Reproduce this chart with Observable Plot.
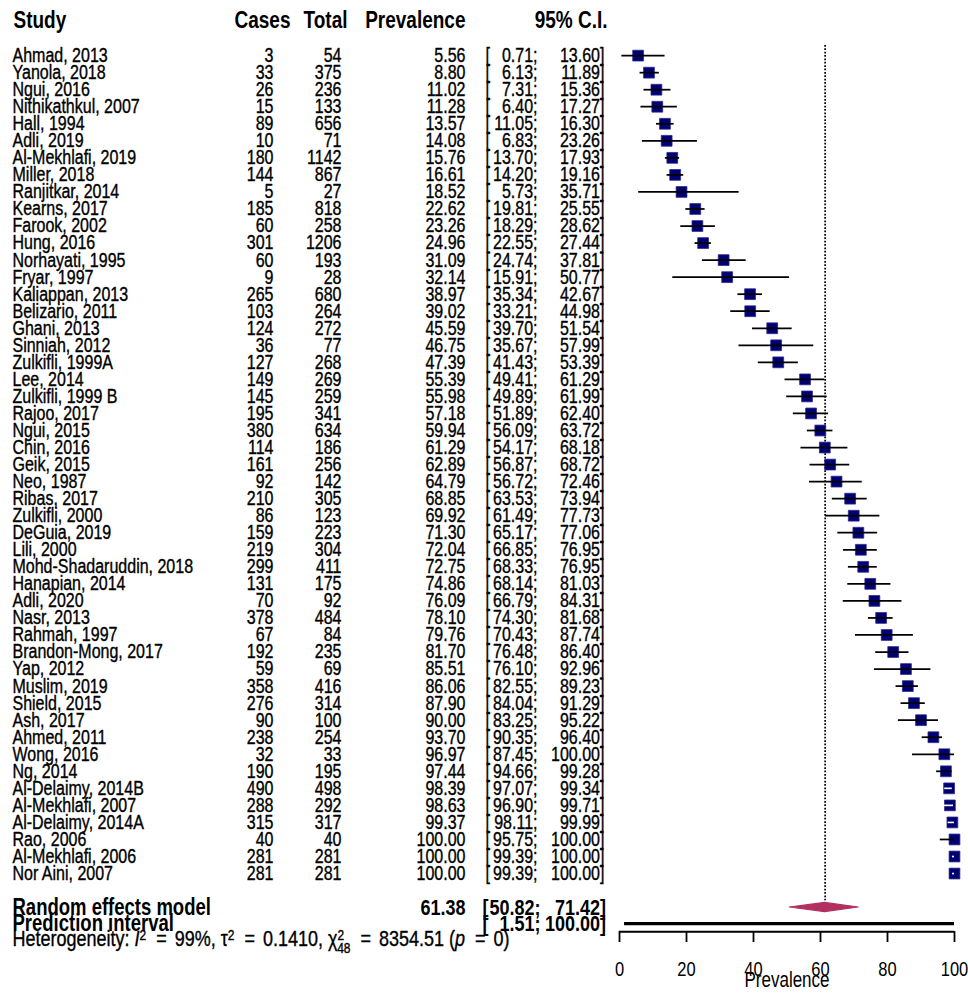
<!DOCTYPE html>
<html>
<head>
<meta charset="utf-8">
<script src="https://cdn.jsdelivr.net/npm/d3@7"></script>
<script src="https://cdn.jsdelivr.net/npm/@observablehq/plot@0.6"></script>
<style>
  html, body { margin: 0; padding: 0; background: #fff; }
  #chart svg { display: block; }
</style>
</head>
<body>
<div id="chart"></div>
<script>
// ---------- data ----------
const studies = ["Ahmad, 2013","Yanola, 2018","Ngui, 2016","Nithikathkul, 2007","Hall, 1994","Adli, 2019","Al-Mekhlafi, 2019","Miller, 2018","Ranjitkar, 2014","Kearns, 2017","Farook, 2002","Hung, 2016","Norhayati, 1995","Fryar, 1997","Kaliappan, 2013","Belizario, 2011","Ghani, 2013","Sinniah, 2012","Zulkifli, 1999A","Lee, 2014","Zulkifli, 1999 B","Rajoo, 2017","Ngui, 2015","Chin, 2016","Geik, 2015","Neo, 1987","Ribas, 2017","Zulkifli, 2000","DeGuia, 2019","Lili, 2000","Mohd-Shadaruddin, 2018","Hanapian, 2014","Adli, 2020","Nasr, 2013","Rahmah, 1997","Brandon-Mong, 2017","Yap, 2012","Muslim, 2019","Shield, 2015","Ash, 2017","Ahmed, 2011","Wong, 2016","Ng, 2014","Al-Delaimy, 2014B","Al-Mekhlafi, 2007","Al-Delaimy, 2014A","Rao, 2006","Al-Mekhlafi, 2006","Nor Aini, 2007"];
const cases = [3,33,26,15,89,10,180,144,5,185,60,301,60,9,265,103,124,36,127,149,145,195,380,114,161,92,210,86,159,219,299,131,70,378,67,192,59,358,276,90,238,32,190,490,288,315,40,281,281];
const totals = [54,375,236,133,656,71,1142,867,27,818,258,1206,193,28,680,264,272,77,268,269,259,341,634,186,256,142,305,123,223,304,411,175,92,484,84,235,69,416,314,100,254,33,195,498,292,317,40,281,281];
const prevalence = [5.56,8.80,11.02,11.28,13.57,14.08,15.76,16.61,18.52,22.62,23.26,24.96,31.09,32.14,38.97,39.02,45.59,46.75,47.39,55.39,55.98,57.18,59.94,61.29,62.89,64.79,68.85,69.92,71.30,72.04,72.75,74.86,76.09,78.10,79.76,81.70,85.51,86.06,87.90,90.00,93.70,96.97,97.44,98.39,98.63,99.37,100.00,100.00,100.00];
const lower = [0.71,6.13,7.31,6.40,11.05,6.83,13.70,14.20,5.73,19.81,18.29,22.55,24.74,15.91,35.34,33.21,39.70,35.67,41.43,49.41,49.89,51.89,56.09,54.17,56.87,56.72,63.53,61.49,65.17,66.85,68.33,68.14,66.79,74.30,70.43,76.48,76.10,82.55,84.04,83.25,90.35,87.45,94.66,97.07,96.90,98.11,95.75,99.39,99.39];
const upper = [13.60,11.89,15.36,17.27,16.30,23.26,17.93,19.16,35.71,25.55,28.62,27.44,37.81,50.77,42.67,44.98,51.54,57.99,53.39,61.29,61.99,62.40,63.72,68.18,68.72,72.46,73.94,77.73,77.06,76.95,76.95,81.03,84.31,81.68,87.74,86.40,92.96,89.23,91.29,95.22,96.40,100.00,99.28,99.34,99.71,99.99,100.00,100.00,100.00];
const headers = ["Study","Cases","Total","Prevalence","95% C.I."];
const pooled = {label: "Random effects model", est: 61.38, lo: 50.82, hi: 71.42};
const predInt = {label: "Prediction interval", lo: 1.51, hi: 100.00};
const heterogeneity = {I2: "99%", tau2: "0.1410", df: 48, Q: "8354.51", p: "0"};
const xTicks = [0,20,40,60,80,100];
const xLabel = "Prevalence";

// ---------- layout ----------
const W = 968, HF = 993, S = 0.8, H = HF * S;   // drawn compressed, then stretched vertically
const ML = 619, MR = 14;
const ROW0 = 55, STEP = 17.04;
const px = r => (ROW0 + (r - 1) * STEP) * S;
const HEAD_ROW = -1.05, RE_ROW = 51, PI_ROW = 51.94, HET_ROW = 52.85, AXIS_ROW = 52.41, LAB_ROW = 55.25;
const col = {study: 12, cases: 273, total: 341, prev: 465, lb: 485, lo: 537, hi: 599.5};
const hdrX = [13, 290, 347, 465, 607];
const fmt = v => v.toFixed(2);
const navy = "#000070", maroon = "#B03060";
const ink = {fill: "black", stroke: "black", strokeWidth: 0.3};

const rows = studies.map((s, i) => ({study: s, cases: cases[i], total: totals[i], prev: prevalence[i], lo: lower[i], hi: upper[i], row: i + 1}));
const inside = d => (d.hi - d.lo) <= 3.1;

const rectSym = {draw(ctx, size) {
  const w = Math.sqrt(size), h = w * S;
  ctx.moveTo(-w/2, -h/2); ctx.lineTo(w/2, -h/2); ctx.lineTo(w/2, h/2); ctx.lineTo(-w/2, h/2); ctx.closePath();
}};

const colText = (data, key, x, anchor, extra = {}) =>
  Plot.text(data, {y: "row", text: key, frameAnchor: "left", dx: x - ML, textAnchor: anchor, ...ink, ...extra});

const headerMarks = headers.map((h, i) =>
  colText([{h, row: HEAD_ROW}], "h", hdrX[i], i === 0 ? "start" : "end", {fontWeight: "bold", fontSize: 19, strokeWidth: 0}));

const summaryRows = [
  {label: pooled.label, prev: fmt(pooled.est), lo: fmt(pooled.lo) + ";", hi: fmt(pooled.hi), row: RE_ROW},
  {label: predInt.label, prev: "", lo: fmt(predInt.lo) + ";", hi: fmt(predInt.hi), row: PI_ROW}
];
const hetText = `Heterogeneity: I2 = ${heterogeneity.I2}, t2 = ${heterogeneity.tau2}, X248 = ${heterogeneity.Q} (p = ${heterogeneity.p})`;

const dh = 4.6 / STEP;
const diamond = [
  {x: pooled.lo, y1: RE_ROW, y2: RE_ROW},
  {x: pooled.est, y1: RE_ROW - dh, y2: RE_ROW + dh},
  {x: pooled.hi, y1: RE_ROW, y2: RE_ROW}
];

const boldSum = {fontWeight: "bold", fontSize: 18, strokeWidth: 0};

const chart = Plot.plot({
  width: W, height: H,
  marginLeft: ML, marginRight: MR, marginTop: 0, marginBottom: H - px(AXIS_ROW),
  style: {fontFamily: "'Liberation Sans', Arial, Helvetica, sans-serif", fontSize: "16px", background: "white", color: "black"},
  x: {domain: [0, 100], axis: null},
  y: {domain: [1, 49], range: [px(1), px(49)], axis: null},
  marks: [
    ...headerMarks,
    // study table
    colText(rows, "study", col.study, "start"),
    colText(rows, d => String(d.cases), col.cases, "end"),
    colText(rows, d => String(d.total), col.total, "end"),
    colText(rows, d => fmt(d.prev), col.prev, "end"),
    colText(rows, d => "[", col.lb, "start"),
    colText(rows, d => fmt(d.lo) + ";", col.lo, "end"),
    colText(rows, d => fmt(d.hi), col.hi, "end"),
    colText(rows, d => "]", col.hi, "start"),
    // summary table
    colText(summaryRows, "label", col.study, "start", {...boldSum, fontSize: 18.5}),
    colText(summaryRows, "prev", col.prev, "end", boldSum),
    colText(summaryRows, d => "[", col.lb - 3, "start", boldSum),
    colText(summaryRows, "lo", col.lo + 3, "end", boldSum),
    colText(summaryRows, "hi", col.hi, "end", boldSum),
    colText(summaryRows, d => "]", col.hi, "start", boldSum),
    colText([{t: hetText, row: HET_ROW}], "t", col.study, "start", {fontSize: 18}),
    // pooled reference line
    Plot.ruleX([pooled], {x: "est", y1: 0.41, y2: 50.6, stroke: "black", strokeWidth: 1.7, strokeDasharray: "1.4,1.3"}),
    // study squares and CIs
    Plot.dot(rows, {x: "prev", y: "row", symbol: rectSym, r: 6.1, fill: navy, stroke: "#2a2a95", strokeWidth: 0.7}),
    Plot.ruleY(rows.filter(d => !inside(d)), {y: "row", x1: "lo", x2: "hi", stroke: "black", strokeWidth: 1.4}),
    Plot.ruleY(rows.filter(inside), {y: "row", x1: "lo", x2: "hi", stroke: "white", strokeWidth: 1.3}),
    // diamond
    Plot.areaY(diamond, {x: "x", y1: "y1", y2: "y2", fill: maroon, stroke: maroon, strokeWidth: 1, curve: "linear"}),
    // prediction interval
    Plot.ruleY([{...predInt, row: PI_ROW}], {y: "row", x1: "lo", x2: "hi", stroke: "black", strokeWidth: 2.6}),
    // axis
    Plot.ruleY([AXIS_ROW], {x1: 0, x2: 100, stroke: "black", strokeWidth: 1.6}),
    Plot.axisX({ticks: xTicks, tickSize: 8.8, tickPadding: 15.2, fontSize: 16.5, strokeWidth: 1.8, label: null, anchor: "bottom", tickFormat: d => String(d)}),
    Plot.text([{t: xLabel, row: LAB_ROW}], {x: () => 50, y: "row", text: "t", fontSize: 17})
  ]
});

const svg = chart;
svg.querySelectorAll("text").forEach(t => {
  if (t.textContent.startsWith("Heterogeneity")) {
    const eq = `<tspan dx="3">=</tspan><tspan dx="3"> </tspan>`;
    t.innerHTML = `Heterogeneity: <tspan font-style="italic">I</tspan><tspan dy="-5" font-size="12">2</tspan><tspan dy="5" dx="2"> </tspan>${eq}${heterogeneity.I2}, τ<tspan dy="-5" font-size="12">2</tspan><tspan dy="5" dx="2"> </tspan>${eq}${heterogeneity.tau2}, χ<tspan dy="-5" font-size="12">2</tspan><tspan dx="-7" dy="10" font-size="12">${heterogeneity.df}</tspan><tspan dy="-5" dx="2"> </tspan>${eq}${heterogeneity.Q} (<tspan font-style="italic">p</tspan><tspan dx="2"> </tspan>${eq}${heterogeneity.p})`;
  }
});

svg.setAttribute("preserveAspectRatio", "none");
svg.style.width = W + "px";
svg.style.height = HF + "px";
svg.style.maxWidth = "none";
document.getElementById("chart").append(svg);
</script>
</body>
</html>
